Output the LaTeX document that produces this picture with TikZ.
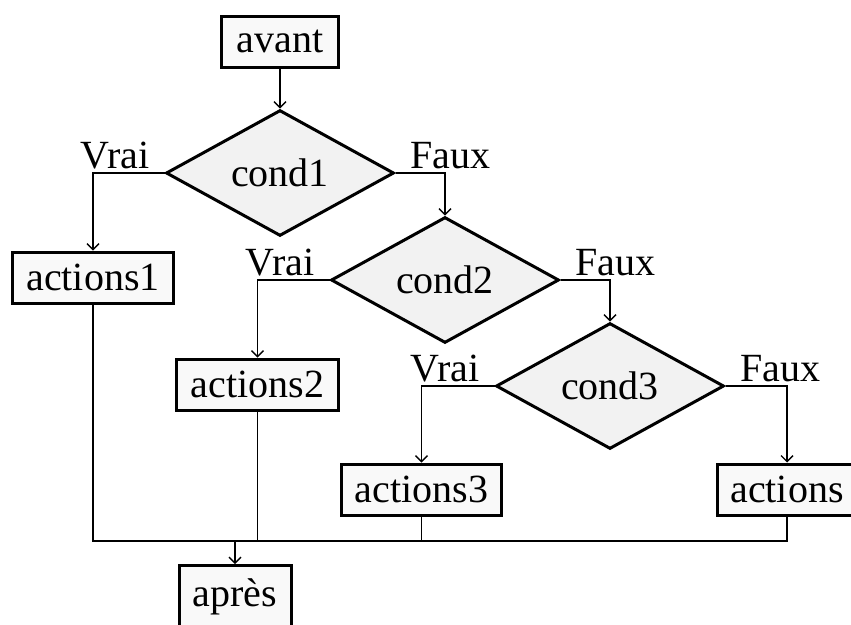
\documentclass[tikz,border=0pt]{standalone}
\usepackage{fontspec}
\setmainfont{Liberation Serif}
\usetikzlibrary{shapes.geometric,arrows.meta}
\definecolor{boxfill}{HTML}{F9F9F9}
\definecolor{condfill}{HTML}{F2F2F2}
\begin{document}
\begin{tikzpicture}[x=1pt,y=-1pt,
  font=\fontsize{40}{45}\selectfont,
  stepbox/.style={draw, line width=3pt, fill=boxfill, inner sep=0pt,
    minimum height=51pt, anchor=center},
  condbox/.style={draw, diamond, line width=3pt, fill=condfill, inner sep=0pt,
    minimum width=228pt, minimum height=114pt, anchor=center},
  link/.style={line width=1.4pt},
  flow/.style={link, -{Straight Barb[length=6pt,width=12pt,line width=1.4pt]}},
  lblL/.style={anchor=base east, inner sep=0pt, xshift=-15pt, yshift=5pt},
  lblR/.style={anchor=base west, inner sep=0pt, xshift=15pt, yshift=5pt}]
\useasboundingbox (0,0) rectangle (851,624);

% processing steps
\node[stepbox, minimum width=117pt] (avant) at (280,41.5) {avant};
\node[stepbox, minimum width=161pt] (a1) at (93,277.5) {actions1};
\node[stepbox, minimum width=162pt] (a2) at (257.5,384.5) {actions2};
\node[stepbox, minimum width=160pt] (a3) at (421.5,489.5) {actions3};
\node[stepbox, minimum width=139pt] (a4) at (787,489.5) {actions};
\node[stepbox, minimum width=112pt, minimum height=62pt] (apres) at (235,596.5) {après};

% tests
\node[condbox] (c1) at (280,173) {cond1};
\node[condbox] (c2) at (445,280) {cond2};
\node[condbox] (c3) at (610,386) {cond3};

% branch labels
\node[lblL] (v1) at (c1.west) {Vrai};
\node[lblR] (f1) at (c1.east) {Faux};
\node[lblL] (v2) at (c2.west) {Vrai};
\node[lblR] (f2) at (c2.east) {Faux};
\node[lblL] (v3) at (c3.west) {Vrai};
\node[lblR] (f3) at (c3.east) {Faux};

% control flow
\draw[flow] (avant.south) -- (c1.north);
\draw[flow] (c1.west) -| (a1.north);
\draw[flow] (c1.east) -| (c2.north);
\draw[flow] (c2.west) -| (a2.north);
\draw[flow] (c2.east) -| (c3.north);
\draw[flow] (c3.west) -| (a3.north);
\draw[flow] (c3.east) -| (a4.north);

% merge into the final step
\coordinate (m) at (235,541);
\draw[link] (a1.south) |- (m);
\draw[link] (a2.south) |- (m);
\draw[link] (a3.south) |- (m);
\draw[link] (a4.south) |- (m);
\draw[flow] (m) -- (apres.north);
\end{tikzpicture}
\end{document}
